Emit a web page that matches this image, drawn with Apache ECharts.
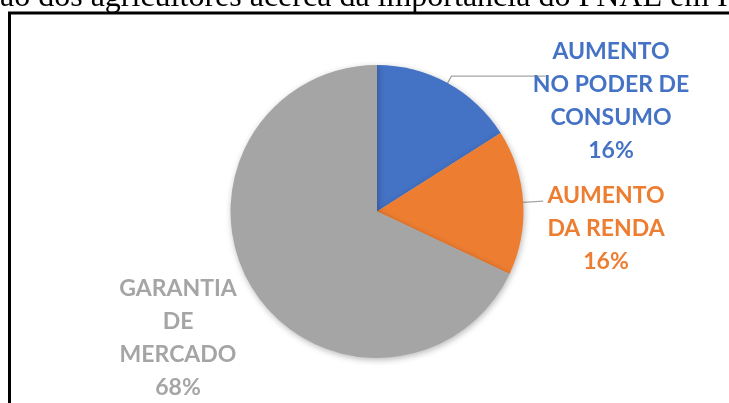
<!DOCTYPE html>
<html>
<head>
<meta charset="utf-8">
<script src="https://cdn.jsdelivr.net/npm/echarts@6/dist/echarts.min.js"></script>
<style>
  html, body { margin: 0; padding: 0; background: #fff; }
  #main { width: 729px; height: 403px; }
</style>
</head>
<body>
<div id="main"></div>
<script>
  // categorias e percentuais
  var categorias = ['AUMENTO\nNO PODER DE\nCONSUMO', 'AUMENTO\nDA RENDA', 'GARANTIA\nDE\nMERCADO'];
  var valores = [16, 16, 68];
  var cores = ['#4472C4', '#ED7D31', '#A5A5A5'];
  var titulo = 'ão dos agricultores acerca da importância do PNAE em I';

  // posição dos rótulos (centro do bloco de texto)
  var posRotulos = [[611, 101], [606, 229], [178, 338]];
  var linhas = [{ length: 8, length2: 94 }, { length: 20, length2: 0 }, { show: false }];

  var myChart = echarts.init(document.getElementById('main'));

  var dados = categorias.map(function (nome, i) {
    return {
      name: nome,
      value: valores[i],
      itemStyle: { color: cores[i] },
      label: { color: cores[i] },
      labelLine: linhas[i]
    };
  });

  myChart.setOption({
    animation: false,
    graphic: [
      { // moldura
        type: 'rect',
        shape: { x: 9.5, y: 13, width: 800, height: 500 },
        style: { fill: 'none', stroke: '#000', lineWidth: 3 }
      },
      { // título cortado no topo
        type: 'text',
        x: 0,
        y: -2,
        style: {
          text: titulo,
          font: '32px "Liberation Serif", "DejaVu Serif", serif',
          fill: '#000',
          verticalAlign: 'middle'
        }
      }
    ],
    series: [{
      type: 'pie',
      center: [377, 211.5],
      radius: 146.5,
      startAngle: 90,
      clockwise: true,
      itemStyle: {
        shadowBlur: 6,
        shadowColor: 'rgba(0,0,0,0.28)',
        shadowOffsetX: 1,
        shadowOffsetY: 2
      },
      label: {
        show: true,
        position: 'outside',
        formatter: '{b}\n{d}%',
        fontFamily: 'Lato',
        fontWeight: 'bold',
        fontSize: 23,
        lineHeight: 33
      },
      labelLine: {
        lineStyle: { color: '#A5A5A5', width: 1.3 }
      },
      labelLayout: function (p) {
        var pos = posRotulos[p.dataIndex];
        return {
          x: pos[0],
          y: pos[1],
          align: 'center',
          verticalAlign: 'middle',
          labelLinePoints: p.labelLinePoints
        };
      },
      data: dados
    }]
  });
</script>
</body>
</html>
